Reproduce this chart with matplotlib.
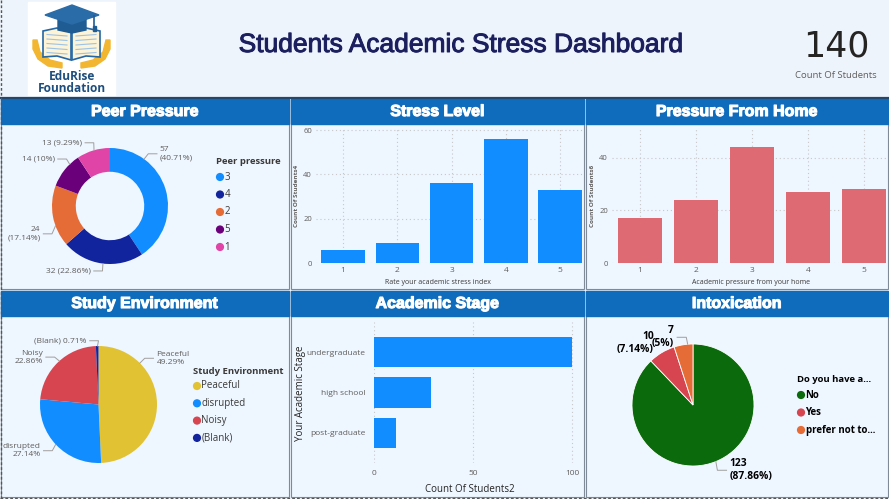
import numpy as np
import matplotlib
matplotlib.use("Agg")
import matplotlib.pyplot as plt
import matplotlib.patheffects as pe
from matplotlib.patches import Rectangle, Circle, Polygon

plt.rcParams['font.family'] = ['Open Sans', 'DejaVu Sans']

# ---- data ----
total_students = 140

peer_levels = ['3', '4', '2', '5', '1']
peer_counts = [57, 32, 24, 14, 13]

stress_levels = [1, 2, 3, 4, 5]
stress_counts = [6, 9, 36, 56, 33]

home_levels = [1, 2, 3, 4, 5]
home_counts = [17, 24, 44, 27, 28]

env_names = ['Peaceful', 'disrupted', 'Noisy', '(Blank)']
env_counts = [69, 38, 32, 1]

stage_names = ['undergraduate', 'high school', 'post-graduate']
stage_counts = [100, 29, 11]

intox_names = ['No', 'Yes', 'prefer not to...']
intox_counts = [123, 10, 7]

# ---- styling ----
W, H = 889, 499
BLUE = '#118DFF'
NAVY = '#12239E'
ORANGE = '#E66C37'
PURPLE = '#6B007B'
PINK = '#E044A7'
YELLOW = '#E1C233'
RED = '#D64550'
GREEN = '#0B6A0B'
HOME = '#DE6A73'
BAR_BLUE = '#118DFF'
HEAD = '#0F6CBD'
PANEL = '#EEF6FF'
GRAY_TXT = '#605E5C'
DARK_TXT = '#252423'
LEAD = '#A19F9D'

peer_colors = [BLUE, NAVY, ORANGE, PURPLE, PINK]
env_colors = [YELLOW, BLUE, RED, NAVY]
intox_colors = [GREEN, RED, ORANGE]

fig = plt.figure(figsize=(W / 100, H / 100), dpi=100)
fig.patch.set_facecolor('#EEF4FC')

# background axes in pixel coordinates
bg = fig.add_axes([0, 0, 1, 1], zorder=0)
bg.set_xlim(0, W)
bg.set_ylim(H, 0)
bg.axis('off')


def px_axes(x0, y0, x1, y1):
    ax = fig.add_axes([x0 / W, 1 - y1 / H, (x1 - x0) / W, (y1 - y0) / H], zorder=2)
    ax.set_facecolor('none')
    return ax


# header
bg.add_patch(Rectangle((0, 0), W, 97, color='#EEF4FC'))
bg.plot([0, W], [97.5, 97.5], color='#24466B', lw=1.6)

# logo
bg.add_patch(Rectangle((28, 2), 87, 93, color='white'))
lhand = [(33, 40), (37, 40), (40, 52), (50, 60), (62, 63), (62, 68), (48, 66), (38, 59), (33, 49)]
bg.add_patch(Polygon(lhand, color='#F2B631'))
bg.add_patch(Polygon([(143 - x, y) for x, y in lhand], color='#F2B631'))
lpage = [(43, 31), (57, 28), (71, 32), (71, 60), (57, 56), (43, 57)]
bg.add_patch(Polygon(lpage, facecolor='#FDF3D6', edgecolor='#2467A6', lw=1.2))
bg.add_patch(Polygon([(143 - x, y) for x, y in lpage], facecolor='#FDF3D6', edgecolor='#2467A6', lw=1.2))
for k in range(5):
    yy = 36 + k * 4.5
    bg.plot([47, 67], [yy - 1.5, yy], color='#9DC3E6', lw=0.8)
    bg.plot([76, 96], [yy, yy - 1.5], color='#9DC3E6', lw=0.8)
bg.add_patch(Polygon([(58, 19), (86, 19), (86, 30), (72, 33), (58, 30)], color='#1F5C94'))
bg.add_patch(Polygon([(45, 15), (72, 5), (99, 15), (72, 24)], color='#2A6CA8'))
bg.plot([94, 94], [16, 28], color='#1F5C94', lw=1.2)
bg.add_patch(Rectangle((92.5, 26), 3, 5, color='#1F5C94'))
bg.text(72, 76, 'EduRise', ha='center', va='center', fontsize=8.6, fontweight='bold', color='#1D4E7E')
bg.text(72, 88.5, 'Foundation', ha='center', va='center', fontsize=8.6, fontweight='bold', color='#1D4E7E')

# title and KPI
bg.text(461, 45, 'Students Academic Stress Dashboard', ha='center', va='center', fontsize=19,
        color='#1B1F5E', family='Liberation Sans',
        path_effects=[pe.withStroke(linewidth=0.7, foreground='#1B1F5E')])
bg.text(836, 46, str(total_students), ha='center', va='center', fontsize=25, color=DARK_TXT, family='DejaVu Sans')
bg.text(836, 75, 'Count Of Students', ha='center', va='center', fontsize=6.8, color=GRAY_TXT)

# panels
panels = [
    (1, 99, 289, 289, 'Peer Pressure'),
    (291, 99, 584, 289, 'Stress Level'),
    (586, 99, 888, 289, 'Pressure From Home'),
    (1, 291, 289, 497, 'Study Environment'),
    (291, 291, 584, 497, 'Academic Stage'),
    (586, 291, 888, 497, 'Intoxication'),
]
for x0, y0, x1, y1, title in panels:
    bg.add_patch(Rectangle((x0, y0), x1 - x0, y1 - y0, facecolor=PANEL, edgecolor='#7F8A99', lw=0.8))
    bg.add_patch(Rectangle((x0, y0), x1 - x0, 25, color=HEAD))
    bg.text((x0 + x1) / 2, y0 + 12.5, title, ha='center', va='center', color='white',
            fontsize=11.5, fontweight='bold', family='Liberation Sans',
            path_effects=[pe.withStroke(linewidth=0.8, foreground='white')])

# dashed outer border
bg.plot([1, 1], [0, H], color='#555555', lw=1, ls=(0, (2, 1.5)))
bg.plot([0, W], [497.5, 497.5], color='#555555', lw=1, ls=(0, (2, 1.5)))


def pie_label(ax, text, ang, xt, yt, ha, color=GRAY_TXT, weight='normal', fs=6, lead=True):
    if lead:
        a = np.deg2rad(ang)
        s = 1 if ha == 'right' else -1
        h0 = xt + s * 0.05
        h1 = h0 + s * 0.15
        ax.plot([h0, h1, np.cos(a)], [yt, yt, np.sin(a)], color=LEAD, lw=0.7, clip_on=False)
    ax.text(xt, yt, text, ha=ha, va='center', color=color, fontweight=weight, fontsize=fs,
            linespacing=1.2, clip_on=False)


def legend(x, y, title, names, colors, weight='normal', tcolor='#3B3A39', icolor='#3B3A39', step=17.5):
    bg.text(x - 4, y, title, ha='left', va='center', fontsize=6.8, fontweight='bold', color=tcolor)
    for i, (n, c) in enumerate(zip(names, colors)):
        yy = y + 15 + i * step
        bg.add_patch(Circle((x, yy), 3.4, color=c))
        bg.text(x + 4.5, yy, n, ha='left', va='center', fontsize=7, fontweight=weight, color=icolor)


# ---- Peer pressure donut ----
r = 58
ax = px_axes(110 - r, 206 - r, 110 + r, 206 + r)
ax.pie(peer_counts, colors=peer_colors, startangle=90, counterclock=False,
       wedgeprops=dict(width=0.41, linewidth=0))
ax.set_xlim(-1, 1)
ax.set_ylim(-1, 1)
pct = [c / total_students * 100 for c in peer_counts]
pie_label(ax, f'{peer_counts[0]}\n({pct[0]:.2f}%)', 54, 0.86, 0.9, 'left')
pie_label(ax, f'{peer_counts[1]} ({pct[1]:.2f}%)', -97, -0.33, -1.12, 'right')
pie_label(ax, f'{peer_counts[2]}\n({pct[2]:.2f}%)', -160, -1.2, -0.48, 'right')
pie_label(ax, f'{peer_counts[3]} ({pct[3]:.0f}%)', 134, -0.95, 0.81, 'right')
pie_label(ax, f'{peer_counts[4]} ({pct[4]:.2f}%)', 106, -0.48, 1.09, 'right')
legend(220, 162, 'Peer pressure', peer_levels, peer_colors)


def bar_style(ax):
    for s in ax.spines.values():
        s.set_visible(False)
    ax.tick_params(length=0, labelsize=6, labelcolor=GRAY_TXT, pad=3)
    ax.grid(True, color='#C8C8C8', lw=0.8, ls=(0, (1, 2.5)))
    ax.set_axisbelow(True)


# ---- Stress level bars ----
ax = px_axes(316, 128, 584, 263)
ax.bar(stress_levels, stress_counts, width=0.8, color=BAR_BLUE)
ax.set_xlim(0.5, 5.44)
ax.set_ylim(0, 61)
ax.set_yticks([0, 20, 40, 60])
ax.set_xticks(stress_levels)
bar_style(ax)
ax.tick_params(axis='y', labelsize=5.5)
bg.text(297, 196, 'Count Of Students4', rotation=90, ha='center', va='center', fontsize=4.6,
        fontweight='bold', color=GRAY_TXT)
bg.text(438, 282, 'Rate your academic stress index', ha='center', va='center', fontsize=5,
        color='#3B3A39')

# ---- Pressure from home bars ----
ax = px_axes(612, 128, 887, 263)
ax.bar(home_levels, home_counts, width=0.8, color=HOME)
ax.set_xlim(0.5, 5.41)
ax.set_ylim(0, 51.4)
ax.set_yticks([0, 20, 40])
ax.set_xticks(home_levels)
bar_style(ax)
ax.tick_params(axis='y', labelsize=5.5)
bg.text(593, 196, 'Count Of Students6', rotation=90, ha='center', va='center', fontsize=4.6,
        fontweight='bold', color=GRAY_TXT)
bg.text(751, 283, 'Academic pressure from your home', ha='center', va='center', fontsize=5,
        color='#3B3A39')

# ---- Study environment pie ----
r = 58.5
ax = px_axes(98.5 - r, 404.5 - r, 98.5 + r, 404.5 + r)
ax.pie(env_counts, colors=env_colors, startangle=90, counterclock=False, wedgeprops=dict(linewidth=0))
ax.set_xlim(-1, 1)
ax.set_ylim(-1, 1)
pct = [c / total_students * 100 for c in env_counts]
pie_label(ax, f'{env_names[0]}\n{pct[0]:.2f}%', 45, 0.99, 0.79, 'left')
pie_label(ax, f'{env_names[1]}\n{pct[1]:.2f}%', -137, -0.99, -0.79, 'right')
pie_label(ax, f'{env_names[2]}\n{pct[2]:.2f}%', 132, -0.95, 0.81, 'right')
pie_label(ax, f'{env_names[3]} {pct[3]:.2f}%', 91, -0.2, 1.09, 'right')
legend(197, 371, 'Study Environment', env_names, env_colors, step=17.3)

# ---- Academic stage horizontal bars ----
ax = px_axes(374, 322, 578, 463)
ypos = np.arange(len(stage_names))
ax.barh(ypos, stage_counts, height=0.75, color=BAR_BLUE)
ax.set_xlim(0, 103)
ax.set_ylim(2.75, -0.75)
ax.set_yticks(ypos)
ax.set_yticklabels(stage_names)
ax.set_xticks([0, 50, 100])
bar_style(ax)
ax.grid(False, axis='y')
ax.tick_params(axis='y', pad=6)
ax.tick_params(axis='x', pad=5)
bg.text(300, 393, 'Your Academic Stage', rotation=90, ha='center', va='center', fontsize=7, color=DARK_TXT)
bg.text(470, 489, 'Count Of Students2', ha='center', va='center', fontsize=7, color=DARK_TXT)

# ---- Intoxication pie ----
r = 61
ax = px_axes(693 - r, 405 - r, 693 + r, 405 + r)
ax.pie(intox_counts, colors=intox_colors, startangle=90, counterclock=False,
       wedgeprops=dict(linewidth=0.6, edgecolor='white'))
ax.set_xlim(-1, 1)
ax.set_ylim(-1, 1)
pct = [c / total_students * 100 for c in intox_counts]
pie_label(ax, f'{intox_counts[0]}\n({pct[0]:.2f}%)', -68, 0.6, -1.07, 'left', 'black', 'bold', 7.4)
pie_label(ax, f'{intox_counts[1]}\n({pct[1]:.2f}%)', 120, -0.64, 1.02, 'right', 'black', 'bold', 7.4, lead=False)
pie_label(ax, f'{intox_counts[2]}\n({pct[2]:.0f}%)', 95, -0.31, 1.11, 'right', 'black', 'bold', 7.4)
legend(801, 380, 'Do you have a...', intox_names, intox_colors,
       weight='bold', tcolor='black', icolor='black')

fig.savefig('out.png', dpi=100, facecolor=fig.get_facecolor())
